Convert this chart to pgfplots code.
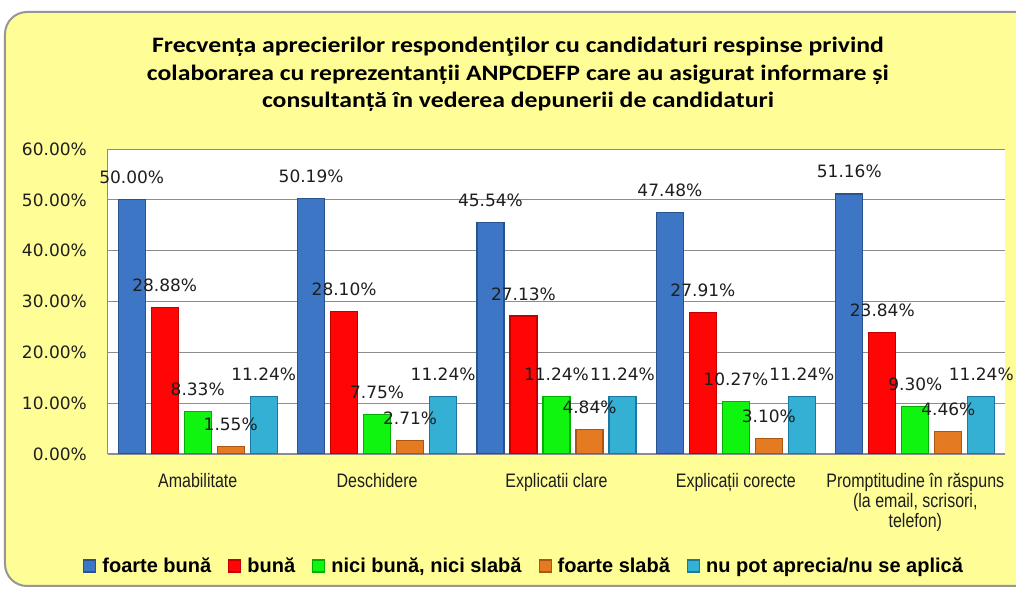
\documentclass[border=0pt]{standalone}
\usepackage{pgfplots}
\pgfplotsset{compat=1.18}
\usepackage{fontspec}
\setmainfont{Liberation Sans}
\newfontfamily\titlefont[FakeStretch=1.17]{Carlito}
\newfontfamily\lblfont{DejaVu Sans}
\newfontfamily\catfont[FakeStretch=0.82]{Liberation Sans}
\newfontfamily\legfont{Liberation Sans}
\definecolor{bgyellow}{RGB}{255,253,150}
\definecolor{bordergray}{RGB}{150,150,150}
\definecolor{gridgray}{RGB}{140,140,140}
\definecolor{labelc}{RGB}{30,30,30}
\definecolor{bluedark}{RGB}{42,82,140}
\definecolor{bluemid}{RGB}{60,118,196}
\definecolor{reddark}{RGB}{195,0,0}
\definecolor{redmid}{RGB}{255,5,5}
\definecolor{greendark}{RGB}{0,175,0}
\definecolor{greenmid}{RGB}{15,245,15}
\definecolor{orangedark}{RGB}{170,85,18}
\definecolor{orangemid}{RGB}{228,122,34}
\definecolor{tealdark}{RGB}{28,120,160}
\definecolor{tealmid}{RGB}{52,176,212}
\begin{document}
\begin{tikzpicture}
\path[use as bounding box] (-108pt,-139pt) rectangle (908pt,454pt);
\fill[white] (-108pt,-139pt) rectangle (908pt,454pt);
\draw[bordergray, line width=2pt, fill=bgyellow, rounded corners=22pt] (-103pt,442pt) rectangle (935pt,-132pt);
\node[font=\titlefont\bfseries\fontsize{22}{27.5}\selectfont, align=center, text=black] at (410pt,379.5pt)
  {Frecvența aprecierilor respondenţilor cu candidaturi respinse privind\\
   colaborarea cu reprezentanții ANPCDEFP care au asigurat informare și\\
   consultanță în vederea depunerii de candidaturi};
\begin{axis}[
  at={(0pt,0pt)}, anchor=south west,
  scale only axis, width=897pt, height=305pt,
  ybar=6pt, bar width=27pt,
  xmin=-0.5, xmax=4.5, ymin=0, ymax=60,
  xtick={0,1,2,3,4},
  xticklabels={Amabilitate, Deschidere, Explicatii clare, Explicații corecte, {Promptitudine în răspuns\\(la email, scrisori,\\telefon)}},
  ytick={0,10,20,30,40,50,60},
  yticklabels={0.00\%,10.00\%,20.00\%,30.00\%,40.00\%,50.00\%,60.00\%},
  ymajorgrids, grid style={draw=gridgray, line width=0.8pt},
  axis lines*=left,
  axis line style={-, draw=gridgray, line width=1pt},
  major tick length=0pt,
  xtick style={draw=none}, ytick style={draw=none},
  axis background/.style={fill=white},
  yticklabel style={font=\lblfont\fontsize{17}{20}\selectfont, text=labelc, anchor=east, inner sep=0pt, xshift=-21pt},
  xticklabel style={font=\catfont\fontsize{19.5}{20}\selectfont, text=labelc, anchor=north, inner sep=0pt, yshift=-19pt, align=center},
  point meta=explicit symbolic,
  nodes near coords={\pgfplotspointmeta\%},
  every node near coord/.append style={font=\lblfont\fontsize{17}{20}\selectfont, text=labelc, anchor=base, inner sep=0pt, yshift=16pt},
  legend columns=5,
  legend cell align=left,
  legend image code/.code={\path[#1] (0pt,-6pt) rectangle (12pt,6pt);},
  legend style={at={(0.4627,-0.367)}, anchor=center, draw=none, fill=none,
    font=\legfont\bfseries\fontsize{20}{24}\selectfont, text=black,
    nodes={inner sep=0pt},
    /tikz/every odd column/.append style={column sep=6pt},
    /tikz/every even column/.append style={column sep=17pt}},
]
\addplot[draw=bluedark, line width=1.2pt, fill=bluemid] coordinates {
  (0,50.00) [50.00] (1,50.19) [50.19] (2,45.54) [45.54] (3,47.48) [47.48] (4,51.16) [51.16]};
\addplot[draw=reddark, line width=1.2pt, fill=redmid] coordinates {
  (0,28.88) [28.88] (1,28.10) [28.10] (2,27.13) [27.13] (3,27.91) [27.91] (4,23.84) [23.84]};
\addplot[draw=greendark, line width=1.2pt, fill=greenmid] coordinates {
  (0,8.33) [8.33] (1,7.75) [7.75] (2,11.24) [11.24] (3,10.27) [10.27] (4,9.30) [9.30]};
\addplot[draw=orangedark, line width=1.2pt, fill=orangemid] coordinates {
  (0,1.55) [1.55] (1,2.71) [2.71] (2,4.84) [4.84] (3,3.10) [3.10] (4,4.46) [4.46]};
\addplot[draw=tealdark, line width=1.2pt, fill=tealmid] coordinates {
  (0,11.24) [11.24] (1,11.24) [11.24] (2,11.24) [11.24] (3,11.24) [11.24] (4,11.24) [11.24]};
\legend{foarte bună, bună, {nici bună, nici slabă}, foarte slabă, nu pot aprecia/nu se aplică}
\end{axis}
\end{tikzpicture}
\end{document}
